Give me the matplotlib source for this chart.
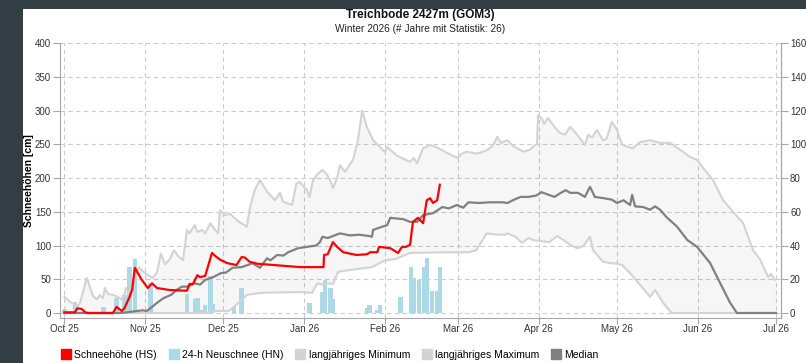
import numpy as np
import pandas as pd
import matplotlib
matplotlib.use("Agg")
import matplotlib.pyplot as plt
import matplotlib.dates as mdates
from matplotlib.lines import Line2D
from matplotlib.patches import Rectangle

plt.rcParams['font.family'] = ['Liberation Sans', 'DejaVu Sans']

# season start, all x values are days after this date
SEASON_START = pd.Timestamp("2025-10-01")

# snow depth HS [cm], current winter
hs_day = [0, 4, 5, 6.6, 8, 9, 18.6, 20, 22, 23, 25, 26, 27, 29.7, 32, 33.6, 35.5, 40.5, 47, 48,
          49.3, 51, 52, 54, 55, 56.6, 58, 59.7, 62.4, 66, 68, 69.3, 71, 74, 83.8, 90.3, 97, 99.4,
          99.6, 101, 103, 104.6, 107, 112, 116, 117.3, 120, 120.7, 125, 128, 129.5, 131, 132.6,
          133.7, 135.6, 137.6, 139, 140.3, 141.4, 143, 144]
hs_val = [1, 1, 7, 6, 1, 0, 0, 9, 3, 7, 24, 35, 67, 49, 37, 44, 37, 34, 33, 43,
          43, 56, 53, 55, 68, 89, 84, 79, 74, 71, 83, 82, 76, 73, 70, 68, 68, 68,
          86, 87, 105, 98, 90, 86, 87, 90, 90, 98, 96, 89, 98, 98, 101,
          135, 141, 133, 167, 170, 163, 167, 190]

# 24-h new snow HN [cm]
hn_day = [0, 4, 15, 20, 23, 25, 27, 33, 47, 50, 51, 53, 54, 56, 57, 65, 68,
          94, 99, 100, 102, 103, 116, 117, 120, 121, 129, 133, 134, 136, 138, 139, 141, 143, 144]
hn_val = [2.4, 6.5, 3.6, 8.8, 10.8, 27, 32, 18, 11, 8.5, 9, 2, 5, 22, 5.5, 3.6, 15,
          6, 12.5, 19.5, 15, 8.5, 3, 5, 1.6, 5, 9.5, 27, 21, 19.5, 27, 32.5, 13, 13, 27]

# long-term maximum [cm]
max_day = [0, 2, 5, 6, 8.6, 11, 12.5, 13.6, 14.8, 15.5, 16.7, 18.6, 21.3, 22, 23, 23.6, 24.7,
           28.6, 30, 31.7, 34, 35.5, 37, 38.6, 40.5, 42, 43.5, 45.5, 47, 48, 50, 51, 52.8, 54,
           56, 57.4, 59, 59.7, 61.6, 63.5, 65.4, 67, 70, 71.2, 73, 75, 77.7, 80.8, 82.7, 83.8,
           87.3, 89, 90.3, 93, 94, 95.4, 97, 99, 100.7, 101.9, 103, 104.6, 105.7, 107.6, 109.5,
           110.7, 112.6, 114.2, 116, 118.4, 121, 123, 123.8, 127.6, 131.4, 132.6, 134, 135.3,
           137.6, 140.3, 143, 146.8, 150.6, 152.5, 154.4, 158.3, 162, 164.4, 166, 167.5, 169.8,
           172, 176, 178.6, 180.5, 181.3, 181.7, 183.2, 184, 185.5, 188.2, 190, 192, 194, 196.7,
           199.7, 200.9, 202.4, 204.3, 206.6, 208, 210, 212, 214, 218, 220.8, 224.7, 228.5,
           232.3, 237.3, 240, 242.7, 245, 248.8, 252.7, 256.5, 260.4, 264.2, 266.9, 270, 271,
           272.6]
max_val = [24, 17, 10, 15, 52, 25, 20, 27, 22, 37, 28, 27, 22, 20, 27, 37, 30,
           68, 62, 57, 52, 60, 88, 72, 80, 93, 85, 78, 123, 118, 130, 120, 123, 118,
           133, 125, 118, 152, 145, 147, 140, 135, 128, 157, 182, 197, 180, 167, 178, 165,
           160, 192, 194, 182, 172, 197, 205, 212, 205, 197, 185, 200, 219, 209, 220,
           227, 256, 300, 276, 256, 246, 238, 246, 233, 226, 224, 230, 222,
           244, 249, 245, 237, 230, 236, 239, 236, 241, 248, 261, 252, 256,
           248, 239, 242, 249, 250, 293, 288, 280, 289, 275, 267, 264, 276, 264,
           249, 264, 260, 271, 256, 258, 283, 271, 249, 244, 253, 256, 252,
           252, 239, 231, 227, 215, 197, 167, 150, 133, 93, 79, 53, 58,
           49]

# long-term median [cm]
med_day = [0, 21, 24, 28, 30, 31.5, 33, 35.5, 38, 41, 43, 45, 47, 50, 52, 54, 57, 60, 62, 64.5,
           68, 71, 72, 75, 77.7, 79, 81.6, 84, 85.8, 89.6, 93, 96.6, 98, 99, 101, 105.7, 109.5,
           113, 117, 118, 118.4, 122, 123.8, 125, 130, 132.6, 135.3, 137.6, 141.5, 145, 147.5,
           150.6, 153, 155, 159, 163, 168, 170, 172, 175, 178, 181, 183, 188, 190, 192.3, 194,
           197, 199.7, 201.6, 203.5, 207, 210, 212, 214.5, 217, 217.8, 218.9, 222, 224.7, 226.6,
           228.5, 231, 235, 239, 242.7, 247.7, 251.6, 255.4, 258, 273]
med_val = [0, 0, 1, 3, 4, 3, 7, 15, 22, 27, 34, 39, 39, 44, 42, 49, 53, 59, 60, 67,
           68, 72, 74, 67, 81, 78, 86, 85, 90, 96, 98, 100, 105, 113, 111, 118, 115,
           116, 114, 113, 123, 128, 130, 141, 139, 135, 135, 145, 148, 157, 155,
           160, 156, 164, 163, 164, 164, 163, 167, 172, 172, 174, 179, 172, 177, 182, 178,
           178, 172, 187, 172, 170, 168, 163, 167, 160, 175, 158, 157, 153, 158,
           153, 142, 128, 108, 98, 74, 44, 15, 0, 0]

# long-term minimum [cm]
min_day = [0, 55, 58, 63, 65, 68, 70, 76, 90, 95, 97, 99, 101, 103, 105, 110, 118, 123, 127,
           132.6, 148, 155, 158, 162, 166, 169, 170, 173, 175.5, 178, 180, 186, 189, 191.5, 194,
           196.7, 199, 201.6, 202.8, 206.6, 209.3, 212, 214, 217, 221, 224.7, 226.6, 229.7, 233,
           273]
min_val = [0, 0, 3, 3, 9, 19, 27, 30, 31, 30, 44, 42, 44, 43, 61, 64, 68, 78, 80,
           89, 90, 90, 93, 118, 116, 116, 118, 113, 104, 111, 108, 105, 114, 108, 101,
           96, 99, 113, 93, 76, 74, 73, 71, 59, 41, 24, 34, 15, 0,
           0]

# right axis shows HN, left axis HS; 160 cm HN at the top of 400 cm HS
HN_FACTOR = 400 / 160


def to_dates(days):
    return SEASON_START + pd.to_timedelta(np.asarray(days, dtype=float), unit="D")


fig = plt.figure(figsize=(8.06, 3.63), dpi=100, facecolor="#323d44")
fig.patches.append(Rectangle((23 / 806, 0), 1, (363 - 9) / 363, transform=fig.transFigure,
                             facecolor="white", edgecolor="none", zorder=-10))

ax = fig.add_axes([60 / 806, 45 / 363, 721 / 806, 275 / 363])
ax.set_facecolor("none")

# envelope between long-term min and max (translucent so the grid stays visible)
env_day = np.union1d(min_day, max_day)
env_lo = np.interp(env_day, min_day, min_val)
env_hi = np.interp(env_day, max_day, max_val)
ax.fill_between(to_dates(env_day), env_lo, env_hi, color="black", alpha=0.035, lw=0, zorder=1)

ax.bar(to_dates(hn_day), np.asarray(hn_val) * HN_FACTOR, width=1.7, color="#add8e6",
       align="center", zorder=2)
ax.plot(to_dates(min_day), min_val, color="#d3d3d3", lw=1.5, zorder=3)
ax.plot(to_dates(max_day), max_val, color="#d3d3d3", lw=1.5, zorder=3)
ax.plot(to_dates(med_day), med_val, color="#808080", lw=1.6, zorder=4)
ax.plot(to_dates(hs_day), hs_val, color="#ff0000", lw=1.6, zorder=5)

ax.set_xlim(SEASON_START - pd.Timedelta(days=1.7), pd.Timestamp("2026-07-01") + pd.Timedelta(days=1.9))
ax.set_ylim(-7.4, 400)
ax.set_yticks(np.arange(0, 401, 50))
ax.xaxis.set_major_locator(mdates.MonthLocator())
ax.xaxis.set_major_formatter(mdates.DateFormatter("%b %y"))

sec = ax.secondary_yaxis("right", functions=(lambda y: y / HN_FACTOR, lambda y: y * HN_FACTOR))
sec.set_yticks(np.arange(0, 161, 20))

ax.set_axisbelow(True)
ax.grid(True, color="#cccccc", lw=0.8, ls=(0, (4, 3)))
for a in (ax, sec):
    a.tick_params(labelsize=7, colors="#333333", length=5, width=0.8, pad=1.5)
    for s in a.spines.values():
        s.set_color("#a6a6a6")
ax.tick_params(axis="both", color="#a6a6a6")
ax.tick_params(axis="x", length=4, pad=0.5)
sec.tick_params(color="#a6a6a6")
ax.spines["top"].set_visible(False)
ax.spines["right"].set_visible(True)

ax.set_ylabel("Schneehöhen [cm]", fontsize=7.5, fontweight="bold")
ax.yaxis.set_label_coords(-26 / 721, 0.5)

fig.text(0.5217, 1 - 15 / 363, "Treichbode 2427m (GOM3)", ha="center", va="center",
         fontsize=8.5, fontweight="bold", color="#111111")
fig.text(0.5217, 1 - 29 / 363, "Winter 2026 (# Jahre mit Statistik: 26)", ha="center",
         va="center", fontsize=7.3, color="#222222")

labels = ["Schneehöhe (HS)", "24-h Neuschnee (HN)", "langjähriges Minimum",
          "langjähriges Maximum", "Median"]
colors = ["#ff0000", "#add8e6", "#d3d3d3", "#d3d3d3", "#808080"]
handles = [Line2D([], [], ls="none", marker="s", markersize=7, markerfacecolor=c,
                  markeredgecolor=c) for c in colors]
fig.legend(handles, labels, loc="center left", bbox_to_anchor=(62 / 806, 1 - 355 / 363),
           ncol=5, frameon=False, fontsize=7.5, handlelength=0.8, handletextpad=0.4,
           columnspacing=1.2, borderaxespad=0, borderpad=0)

fig.savefig("out.png", dpi=100, facecolor=fig.get_facecolor())
